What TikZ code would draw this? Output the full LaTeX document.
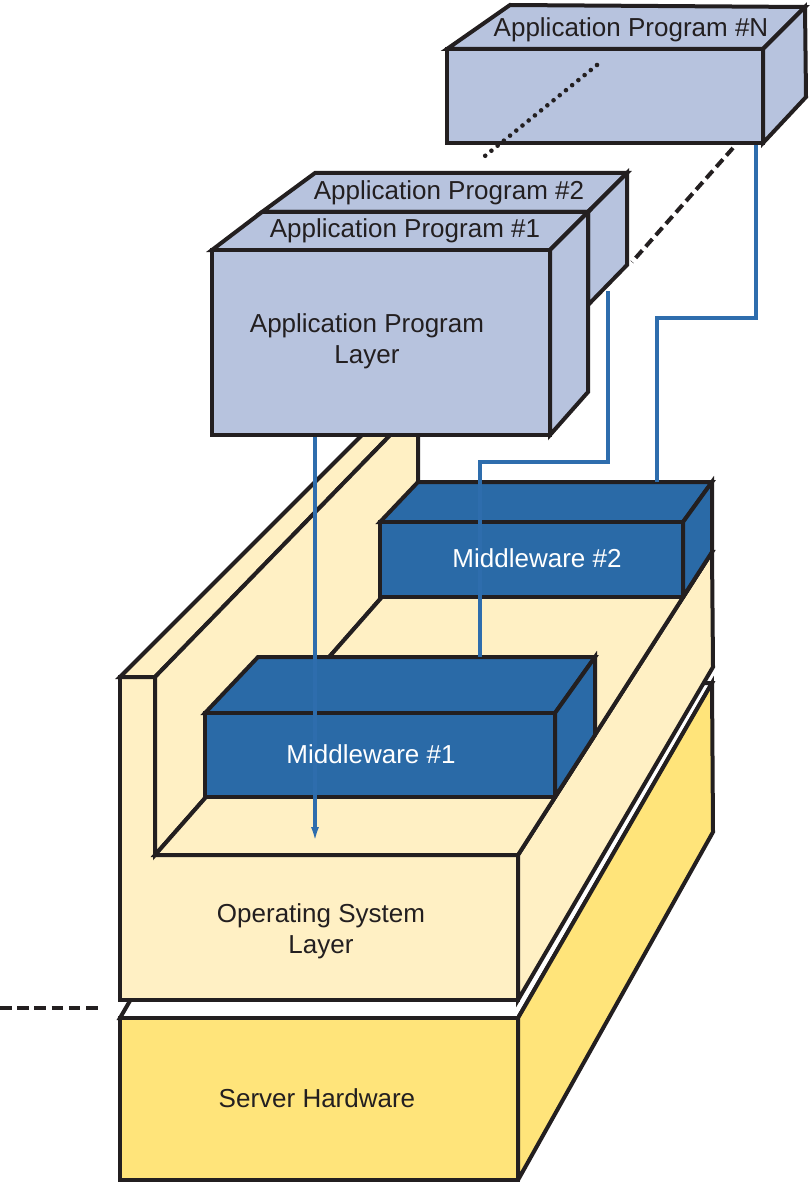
\documentclass[tikz,border=0pt]{standalone}
\usepackage{fontspec}
\setmainfont{Liberation Sans}
\usepackage{tikz}
\usetikzlibrary{arrows.meta}
\definecolor{appfill}{RGB}{183,195,222}
\definecolor{mwfill}{RGB}{42,106,167}
\definecolor{osfill}{RGB}{255,240,196}
\definecolor{hwfill}{RGB}{255,228,122}
\definecolor{edgecol}{RGB}{35,31,32}
\definecolor{linkcol}{RGB}{46,109,173}

\begin{document}
\begin{tikzpicture}[x=0.5pt,y=-0.5pt,
        face/.style={draw=edgecol,line width=2pt},
        link/.style={draw=linkcol,line width=1.8pt},
        lbl/.style={text=edgecol,font=\fontsize{13}{15.5}\selectfont,align=center,inner sep=0pt},
        wlbl/.style={lbl,text=white}]
        \useasboundingbox (0,0) rectangle (809,1182);
        \draw (120,1018) coordinate (hwa);
        \draw (518,1018) coordinate (hwb);
        \draw (518,1180) coordinate (hwc);
        \draw (120,1180) coordinate (hwd);
        \draw (712,683) coordinate (hwe);
        \draw (713,832) coordinate (hwf);
        \draw (314,683) coordinate (hwg);
        \filldraw[face,fill=white] (hwa)--(hwb)--(hwe)--(hwg)--cycle;
        \filldraw[face,fill=hwfill] (hwb)--(hwe)--(hwf)--(hwc)--cycle;
        \filldraw[face,fill=hwfill] (hwa)--(hwb)--(hwc)--(hwd)--cycle;
        \draw (120,677) coordinate (osa);
        \draw (155,677) coordinate (osb);
        \draw (155,855) coordinate (osc);
        \draw (518,855) coordinate (osd);
        \draw (518,1000) coordinate (ose);
        \draw (120,1000) coordinate (osf);
        \draw (712,552) coordinate (osg);
        \draw (713,667) coordinate (osh);
        \draw (372,425) coordinate (osi);
        \draw (400,425) coordinate (osj);
        \draw (418,425) coordinate (osk);
        \draw (418,556) coordinate (osl);
        \filldraw[face,fill=osfill] (osd)--(osg)--(osh)--(ose)--cycle;
        \filldraw[face,fill=osfill] (osa)--(osb)--(osc)--(osd)--(ose)--(osf)--cycle;
        \filldraw[face,fill=osfill] (osa)--(osi)--(osj)--(osb)--cycle;
        \filldraw[face,fill=osfill] (osb)--(osj)--(osk)--(osl)--(osc)--cycle;
        \filldraw[face,fill=osfill] (osc)--(osd)--(osg)--(osl)--cycle;
        \draw (380,522) coordinate (mwa);
        \draw (683,522) coordinate (mwb);
        \draw (683,597) coordinate (mwc);
        \draw (380,597) coordinate (mwd);
        \draw (418,482) coordinate (mwe);
        \draw (712,482) coordinate (mwf);
        \filldraw[face,fill=mwfill] (mwa)--(mwb)--(mwf)--(mwe)--cycle;
        \filldraw[face,fill=mwfill] (mwb)--(mwf)--(osg)--(mwc)--cycle;
        \filldraw[face,fill=mwfill] (mwa)--(mwb)--(mwc)--(mwd)--cycle;
        \draw (205,713) coordinate (mva);
        \draw (555,713) coordinate (mvb);
        \draw (555,797) coordinate (mvc);
        \draw (205,797) coordinate (mvd);
        \draw (258,657) coordinate (mve);
        \draw (595,657) coordinate (mvf);
        \draw (595,735) coordinate (mvg);
        \filldraw[face,fill=mwfill] (mva)--(mvb)--(mvf)--(mve)--cycle;
        \filldraw[face,fill=mwfill] (mvb)--(mvf)--(mvg)--(mvc)--cycle;
        \filldraw[face,fill=mwfill] (mva)--(mvb)--(mvc)--(mvd)--cycle;
        \draw (315,437) coordinate (l1s);
        \draw (315,842) coordinate (l1e);
        \draw (608,291) coordinate (l2s);
        \draw (608,462) coordinate (l2a);
        \draw (480,462) coordinate (l2b);
        \draw (480,657) coordinate (l2e);
        \draw (756,143) coordinate (l3s);
        \draw (756,318) coordinate (l3a);
        \draw (657,318) coordinate (l3b);
        \draw (657,482) coordinate (l3e);
        \draw[link,-{Latex[length=7.5pt,width=4pt]}] (l1s)--(l1e);
        \draw[link] (l2s)--(l2a)--(l2b)--(l2e);
        \draw[link] (l3s)--(l3a)--(l3b)--(l3e);
        \draw (447,49) coordinate (na);
        \draw (763,49) coordinate (nb);
        \draw (763,143) coordinate (nc);
        \draw (447,143) coordinate (nd);
        \draw (510,5) coordinate (ne);
        \draw (805,7) coordinate (nf);
        \draw (806,97) coordinate (ng);
        \filldraw[face,fill=appfill] (na)--(nb)--(nf)--(ne)--cycle;
        \filldraw[face,fill=appfill] (nb)--(nf)--(ng)--(nc)--cycle;
        \filldraw[face,fill=appfill] (na)--(nb)--(nc)--(nd)--cycle;
        \draw (597,65) coordinate (dta);
        \draw (480,160) coordinate (dtb);
        \draw (733,148) coordinate (dsa);
        \draw (632,262) coordinate (dsb);
        \draw[edgecol,line width=2.3pt,line cap=round,dash pattern=on 0pt off 4pt] (dta)--(dtb);
        \draw[edgecol,line width=2pt,dash pattern=on 5pt off 2.6pt] (dsa)--(dsb);
        \draw (262,212) coordinate (ta);
        \draw (588,212) coordinate (tb);
        \draw (588,305) coordinate (tc);
        \draw (315,173) coordinate (te);
        \draw (627,173) coordinate (tf);
        \draw (627,265) coordinate (tg);
        \filldraw[face,fill=appfill] (ta)--(tb)--(tf)--(te)--cycle;
        \filldraw[face,fill=appfill] (tb)--(tf)--(tg)--(tc)--cycle;
        \draw (212,250) coordinate (oa);
        \draw (550,250) coordinate (ob);
        \draw (550,435) coordinate (oc);
        \draw (212,435) coordinate (od);
        \draw (588,392) coordinate (og);
        \filldraw[face,fill=appfill] (oa)--(ob)--(tb)--(ta)--cycle;
        \filldraw[face,fill=appfill] (ob)--(tb)--(og)--(oc)--cycle;
        \filldraw[face,fill=appfill] (oa)--(ob)--(oc)--(od)--cycle;
        \draw (0,1008) coordinate (lda);
        \draw (103,1008) coordinate (ldb);
        \draw[edgecol,line width=2pt,dash pattern=on 5.8pt off 2.8pt] (lda)--(ldb);
        \node[lbl,anchor=base] (ntxt) at (631,37) {Application Program \#N};
        \node[lbl,anchor=base] (ttxt) at (449,199) {Application Program \#2};
        \node[lbl,anchor=base] (otxt) at (405,237) {Application Program \#1};
        \node[lbl] (laytxt) at (367,341) {Application Program\\Layer};
        \node[wlbl,anchor=base] (mw2txt) at (537,567) {Middleware \#2};
        \node[wlbl,anchor=base] (mw1txt) at (371,763) {Middleware \#1};
        \node[lbl] (ostxt) at (321,931) {Operating System\\Layer};
        \node[lbl,anchor=base] (hwtxt) at (317,1107) {Server Hardware};
\end{tikzpicture}
\end{document}
